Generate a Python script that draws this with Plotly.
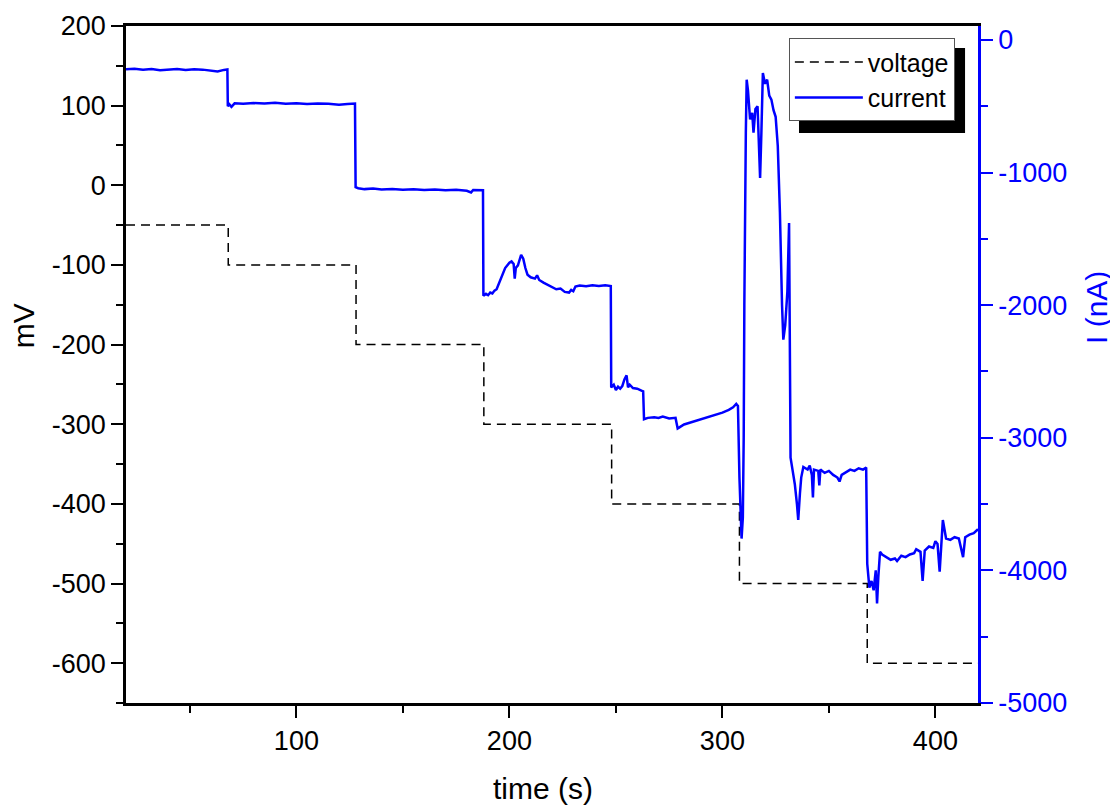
import plotly.graph_objects as go

# ---- data ----
step_times = [20, 68, 128, 188, 248, 308, 368, 420]
voltage_mv = [-50, -100, -200, -300, -400, -500, -600, -600]

current_t = [
    20, 24, 28, 32, 36, 40, 44, 48, 52, 56, 60, 63, 66, 67.6,
    67.8, 68.5, 69.5, 71, 75, 80, 85, 90, 95, 100, 105, 110, 115, 120, 124, 127.5,
    127.8, 129, 132, 136, 140, 145, 150, 155, 160, 165, 170, 175, 180, 182, 183, 186, 187.6,
    187.8, 189, 190, 191, 192, 193, 194, 196, 198, 200, 201, 202, 202.5, 203, 204, 205.5,
    206.5, 207.5, 208.5, 210, 212, 213, 214, 216, 218, 220, 222, 224, 226, 228, 229, 230,
    231, 233, 236, 239, 242, 245, 247.6,
    247.8, 249, 250, 251, 252, 253, 254, 255, 255.7, 256.5, 258, 260, 262, 262.8,
    263.2, 265, 268, 270, 272, 275, 278, 279, 280, 282, 285, 288, 291, 294, 297, 300,
    303, 305, 306.5, 307.3,
    308, 308.5, 309, 309.6, 310, 310.3, 310.6, 311, 311.4, 312, 313, 314, 314.6, 315.5,
    316.5, 317, 317.7, 318.3, 319, 320, 321, 322, 323, 324, 325, 326, 327, 328, 328.6,
    329.5, 330.5, 331.3, 331.6, 332, 333, 334, 335, 335.6, 336.4, 337, 338, 340, 341,
    342, 342.5, 343, 345, 345.5, 346, 348, 350, 352, 354, 355, 356, 358, 360, 362, 364,
    366, 367.5,
    368, 369, 370, 371, 372, 372.6, 373.2, 374, 375, 377, 379, 381, 382, 384, 386, 388,
    390, 391, 393, 394, 395, 397, 399, 400, 401, 402, 403, 403.5, 405, 407, 409, 411,
    413, 414, 416, 418, 420,
]
current_na = [
    -222, -218, -225, -220, -228, -222, -219, -226, -221, -224, -232, -238, -226, -222,
    -500, -485, -505, -478, -482, -476, -480, -474, -481, -477, -483, -479, -482, -488, -484, -480,
    -1110, -1118, -1125, -1120, -1128, -1124, -1130, -1126, -1132, -1128, -1134, -1130, -1138, -1150, -1132, -1136, -1134,
    -1930, -1915, -1925, -1905, -1912, -1890, -1880, -1800, -1720, -1680, -1670, -1690, -1800, -1720, -1700, -1620,
    -1650, -1720, -1770, -1790, -1800, -1775, -1810, -1830, -1845, -1860, -1880, -1875, -1900, -1905, -1885, -1895,
    -1860, -1852, -1858, -1850, -1855, -1850, -1856,
    -2620, -2600, -2640, -2615, -2630, -2610, -2560, -2530, -2620, -2600, -2625, -2630, -2645, -2650,
    -2860, -2850, -2845, -2850, -2840, -2855, -2850, -2930, -2920, -2900, -2885, -2870, -2860, -2840, -2825, -2810,
    -2790, -2770, -2745, -2760,
    -3300, -3650, -3760, -3600, -3000, -2000, -1280, -700, -300, -380, -600, -550, -700, -520,
    -500, -800, -1040, -700, -250, -330, -300, -420, -450, -530, -580, -800, -1300, -2000, -2260,
    -2150, -1900, -1380, -2500, -3150, -3250, -3350, -3500, -3620, -3420, -3300, -3220, -3240, -3210,
    -3280, -3450, -3240, -3250, -3360, -3240, -3265, -3250, -3280, -3300, -3330, -3280, -3260, -3240, -3250, -3230,
    -3240, -3225,
    -3950, -4130, -4080, -4150, -4000, -4250, -4050, -3860, -3880, -3900, -3920, -3910, -3930, -3890, -3900, -3880,
    -3870, -3840, -3860, -4080, -3850, -3820, -3830, -3780, -3800, -4010, -3790, -3620, -3760, -3770, -3750, -3760,
    -3900, -3750, -3730, -3720, -3690,
]

x_ticks = [100, 200, 300, 400]
mv_ticks = [-600, -500, -400, -300, -200, -100, 0, 100, 200]
mv_labels = ["-600", "-500", "-400", "-300", "-200", "-100", "0", "100", "200"]
na_ticks = [-5000, -4000, -3000, -2000, -1000, 0]
na_labels = ["-5000", "-4000", "-3000", "-2000", "-1000", "0"]

FONT = "Arial, Liberation Sans, sans-serif"
BLUE = "#0000FF"

fig = go.Figure()
fig.add_trace(go.Scatter(
    x=step_times, y=voltage_mv, name="voltage", mode="lines",
    line=dict(color="black", width=1.5, dash="9px,6px", shape="hv"),
    yaxis="y",
))
fig.add_trace(go.Scatter(
    x=current_t, y=current_na, name="current", mode="lines",
    line=dict(color=BLUE, width=2.5),
    yaxis="y2",
))

fig.update_layout(
    width=1110, height=801,
    margin=dict(l=118, r=140, t=18, b=106, autoexpand=False),
    paper_bgcolor="white", plot_bgcolor="white",
    font=dict(family=FONT, size=26, color="black"),
    showlegend=True,
    legend=dict(
        x=0.778, y=0.982, xanchor="left", yanchor="top",
        bgcolor="white", bordercolor="#555555", borderwidth=1,
        font=dict(size=25, color="black"), itemwidth=68,
        tracegroupgap=0,
    ),
    xaxis=dict(
        range=[20, 420], tickmode="array", tickvals=x_ticks, automargin=False,
        showgrid=False, zeroline=False,
        showline=True, linecolor="black", linewidth=2.5, mirror=True,
        ticks="outside", ticklen=12, tickwidth=2, tickcolor="black",
        tickfont=dict(size=27),
        minor=dict(tickmode="linear", tick0=0, dtick=50, ticks="outside",
                   ticklen=7, tickwidth=2, tickcolor="black"),
    ),
    yaxis=dict(
        range=[-650, 200], tickmode="array", tickvals=mv_ticks, ticktext=mv_labels,
        automargin=False,
        showgrid=False, zeroline=False,
        showline=True, linecolor="black", linewidth=2.5,
        ticks="outside", ticklen=12, tickwidth=2, tickcolor="black",
        tickfont=dict(size=27),
        minor=dict(tickmode="linear", tick0=0, dtick=50, ticks="outside",
                   ticklen=7, tickwidth=2, tickcolor="black"),
    ),
    yaxis2=dict(
        range=[-5000, 105], overlaying="y", side="right",
        tickmode="array", tickvals=na_ticks, ticktext=na_labels, automargin=False,
        showgrid=False, zeroline=False,
        showline=True, linecolor=BLUE, linewidth=2.5,
        ticks="outside", ticklen=12, tickwidth=2, tickcolor=BLUE,
        tickfont=dict(size=27, color=BLUE),
        minor=dict(tickmode="linear", tick0=0, dtick=500, ticks="outside",
                   ticklen=7, tickwidth=2, tickcolor=BLUE),
    ),
    shapes=[
        dict(type="rect", xref="paper", yref="paper",
             x0=0.7899, x1=0.9848, y0=0.842, y1=0.9675,
             fillcolor="black", line=dict(width=0), layer="above"),
    ],
    annotations=[
        dict(text="time (s)", xref="paper", yref="paper", x=0.489, y=-0.126,
             xanchor="center", yanchor="middle", showarrow=False,
             font=dict(size=30, color="black")),
        dict(text="mV", xref="paper", yref="paper", x=-0.121, y=0.558,
             xanchor="center", yanchor="middle", showarrow=False, textangle=-90,
             font=dict(size=30, color="black")),
        dict(text="I (nA)", xref="paper", yref="paper", x=1.1397, y=0.5835,
             xanchor="center", yanchor="middle", showarrow=False, textangle=-90,
             font=dict(size=30, color=BLUE)),
    ],
)

fig.write_html("out.html")
